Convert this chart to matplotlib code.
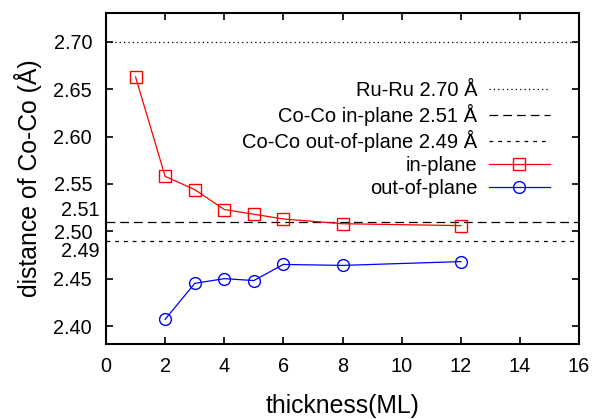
import matplotlib
matplotlib.use("Agg")
import matplotlib.pyplot as plt

plt.rcParams['font.family'] = ['Liberation Sans', 'DejaVu Sans']

thickness = [1, 2, 3, 4, 5, 6, 8, 12]
in_plane = [2.663, 2.558, 2.544, 2.523, 2.518, 2.513, 2.508, 2.506]

thickness_out = [2, 3, 4, 5, 6, 8, 12]
out_plane = [2.407, 2.445, 2.450, 2.448, 2.465, 2.464, 2.468]

ref_values = [2.70, 2.51, 2.49]
ref_labels = ['Ru-Ru 2.70 Å', 'Co-Co in-plane 2.51 Å', 'Co-Co out-of-plane 2.49 Å']
y_ticks = [2.40, 2.45, 2.50, 2.55, 2.60, 2.65, 2.70]
x_ticks = [0, 2, 4, 6, 8, 10, 12, 14, 16]


def main():
    fig = plt.figure(figsize=(5.94, 4.19), dpi=100)
    ax = fig.add_axes([106 / 594, 1 - 344 / 419, (579 - 106) / 594, (344 - 13) / 419])

    styles = [(0, (1, 2.5)), (0, (7, 4)), (0, (3, 4))]
    for val, lab, ls in zip(ref_values, ref_labels, styles):
        ax.axhline(val, color='black', lw=0.9, linestyle=ls, label=lab)

    ax.plot(thickness, in_plane, color='red', lw=0.9, marker='s', ms=8.5,
            mfc='none', mec='red', mew=1.0, label='in-plane')
    ax.plot(thickness_out, out_plane, color='blue', lw=0.9, marker='o', ms=8.5,
            mfc='none', mec='blue', mew=1.0, label='out-of-plane')

    ax.set_xlim(0, 16)
    ax.set_ylim(2.381, 2.7305)
    ax.set_xticks(x_ticks)
    ax.set_yticks(y_ticks)
    ax.set_yticklabels([f'{v:.2f}' for v in y_ticks])
    ax.tick_params(direction='in', length=5, width=1.2, labelsize=14.3,
                   top=True, right=True)
    ax.tick_params(axis='y', pad=10)
    ax.tick_params(axis='x', pad=9)
    for s in ax.spines.values():
        s.set_linewidth(1.5)

    # extra labels for the reference lines
    ax.text(-0.2, 2.5115, '2.51', ha='right', va='bottom', fontsize=14.3,
            transform=ax.transData, clip_on=False)
    ax.text(-0.2, 2.4885, '2.49', ha='right', va='top', fontsize=14.3,
            transform=ax.transData, clip_on=False)

    ax.set_xlabel('thickness(ML)', fontsize=17.8, labelpad=13.5)
    ax.set_ylabel('distance of Co-Co (Å)', fontsize=17.8, labelpad=8)

    ax.legend(loc='upper right', bbox_to_anchor=(0.955, 0.82), frameon=False,
              markerfirst=False, fontsize=14.5, handlelength=3.0,
              labelspacing=0.2, handletextpad=0.6, borderaxespad=0)

    fig.savefig('out.png', dpi=100)


if __name__ == "__main__":
    main()
